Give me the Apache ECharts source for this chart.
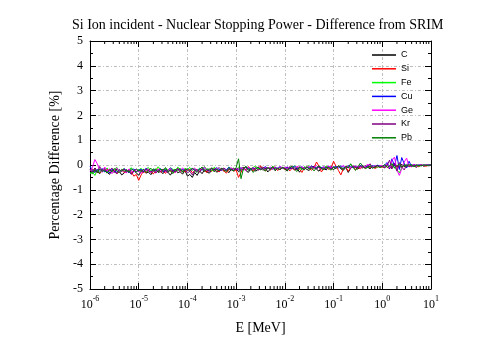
<!DOCTYPE html>
<html><head><meta charset="utf-8">
<script src="https://cdn.jsdelivr.net/npm/echarts@6/dist/echarts.min.js"></script>
<style>html,body{margin:0;padding:0;background:#fff}#c{width:500px;height:347px}</style>
</head><body><div id="c"></div>
<script>
const energy = [
1e-6,1.12e-6,1.26e-6,1.41e-6,1.58e-6,1.78e-6,2e-6,2.24e-6,2.51e-6,2.82e-6,3.16e-6,3.55e-6,3.98e-6,4.47e-6,5.01e-6,5.62e-6,6.31e-6,7.08e-6,7.94e-6,8.91e-6,
1e-5,1.12e-5,1.26e-5,1.41e-5,1.58e-5,1.78e-5,2e-5,2.24e-5,2.51e-5,2.82e-5,3.16e-5,3.55e-5,3.98e-5,4.47e-5,5.01e-5,5.62e-5,6.31e-5,7.08e-5,7.94e-5,8.91e-5,
1e-4,1.12e-4,1.26e-4,1.41e-4,1.58e-4,1.78e-4,2e-4,2.24e-4,2.51e-4,2.82e-4,3.16e-4,3.55e-4,3.98e-4,4.47e-4,5.01e-4,5.62e-4,6.31e-4,7.08e-4,7.94e-4,8.91e-4,
1e-3,1.12e-3,1.26e-3,1.41e-3,1.58e-3,1.78e-3,2e-3,2.24e-3,2.51e-3,2.82e-3,3.16e-3,3.55e-3,3.98e-3,4.47e-3,5.01e-3,5.62e-3,6.31e-3,7.08e-3,7.94e-3,8.91e-3,
1e-2,1.12e-2,1.26e-2,1.41e-2,1.58e-2,1.78e-2,2e-2,2.24e-2,2.51e-2,2.82e-2,3.16e-2,3.55e-2,3.98e-2,4.47e-2,5.01e-2,5.62e-2,6.31e-2,7.08e-2,7.94e-2,8.91e-2,
0.1,0.112,0.126,0.141,0.158,0.178,0.2,0.224,0.251,0.282,0.316,0.355,0.398,0.447,0.501,0.562,0.631,0.708,0.794,0.891,
1,1.12,1.26,1.41,1.58,1.78,2,2.24,2.51,2.82,3.16,3.55,3.98,4.47,5.01,5.62,6.31,7.08,7.94,8.91,
10];
const diffC = [
-0.18,-0.30,-0.12,-0.26,-0.35,-0.20,-0.15,-0.28,-0.38,-0.22,-0.30,-0.17,-0.25,-0.40,-0.33,-0.19,-0.27,-0.36,-0.24,-0.31,
-0.42,-0.25,-0.18,-0.33,-0.28,-0.39,-0.22,-0.16,-0.30,-0.26,-0.35,-0.20,-0.29,-0.41,-0.24,-0.18,-0.31,-0.27,-0.37,-0.22,
-0.45,-0.38,-0.50,-0.30,-0.42,-0.24,-0.35,-0.19,-0.28,-0.33,-0.21,-0.16,-0.29,-0.24,-0.12,-0.26,-0.20,-0.31,-0.17,-0.23,
-0.14,-0.27,-0.19,-0.08,-0.22,-0.30,-0.15,-0.11,-0.25,-0.18,-0.06,-0.21,-0.13,-0.28,-0.17,-0.09,-0.23,-0.14,-0.19,-0.10,
-0.16,-0.24,-0.11,-0.07,-0.20,-0.13,-0.29,-0.15,-0.09,-0.18,-0.22,-0.12,-0.05,-0.17,-0.25,-0.10,-0.14,-0.20,-0.08,-0.13,
-0.18,-0.11,-0.06,-0.15,-0.22,-0.09,-0.30,-0.13,-0.04,-0.10,-0.17,-0.07,-0.12,-0.03,-0.09,-0.15,-0.06,-0.11,-0.02,-0.08,
-0.05,-0.12,0.02,-0.08,-0.14,0.06,-0.04,-0.10,0.03,-0.07,-0.01,-0.06,0.02,-0.04,-0.09,-0.02,0.01,-0.05,-0.01,-0.03,
-0.02];
const diffSi = [
-0.24,-0.16,-0.29,-0.21,-0.33,-0.18,-0.26,-0.14,-0.30,-0.23,-0.19,-0.35,-0.27,-0.20,-0.31,-0.25,-0.17,-0.28,-0.45,-0.38,
-0.62,-0.40,-0.25,-0.32,-0.19,-0.27,-0.36,-0.22,-0.15,-0.29,-0.24,-0.34,-0.18,-0.26,-0.21,-0.30,-0.13,-0.25,-0.20,-0.28,
-0.22,-0.17,-0.31,-0.24,-0.19,-0.27,-0.14,-0.23,-0.30,-0.18,-0.26,-0.12,-0.21,-0.28,-0.16,-0.24,-0.33,-0.19,-0.14,-0.25,
-0.20,-0.50,-0.30,-0.12,-0.21,-0.06,-0.18,-0.25,-0.10,-0.19,-0.03,-0.16,-0.24,-0.11,-0.20,-0.14,-0.07,-0.22,-0.15,-0.12,
-0.18,-0.09,-0.24,-0.13,-0.20,-0.06,-0.17,-0.30,-0.12,-0.08,-0.15,-0.21,-0.10,0.12,-0.05,-0.28,-0.14,-0.09,-0.18,-0.11,
0.15,-0.05,-0.22,-0.40,-0.16,-0.08,-0.25,-0.12,-0.04,-0.19,-0.10,-0.15,-0.07,-0.13,-0.03,-0.11,-0.06,-0.14,-0.09,-0.05,
-0.10,-0.03,-0.08,-0.15,-0.02,0.05,-0.09,-0.04,-0.12,0.01,-0.06,-0.02,-0.08,0.02,-0.04,-0.07,0.00,-0.03,-0.05,-0.01,
-0.02];
const diffFe = [
-0.35,-0.28,-0.42,-0.20,-0.31,-0.17,-0.26,-0.12,-0.23,-0.30,-0.18,-0.09,-0.25,-0.21,-0.14,-0.27,-0.19,-0.11,-0.24,-0.16,
-0.22,-0.13,-0.28,-0.18,-0.10,-0.24,-0.15,-0.20,-0.07,-0.19,-0.26,-0.14,-0.21,-0.11,-0.17,-0.23,-0.09,-0.16,-0.25,-0.13,
-0.19,-0.10,-0.22,-0.15,-0.27,-0.12,-0.18,-0.06,-0.21,-0.14,-0.24,-0.09,-0.17,-0.11,-0.20,-0.13,-0.23,-0.08,-0.16,-0.12,
-0.18,-0.09,-0.15,-0.21,-0.07,-0.14,-0.19,-0.10,-0.04,-0.16,-0.12,-0.20,-0.08,-0.13,-0.17,-0.06,-0.11,-0.15,-0.09,-0.14,
-0.10,-0.16,-0.06,-0.12,-0.03,-0.14,-0.09,-0.18,-0.07,-0.11,-0.02,-0.13,-0.08,-0.15,-0.05,-0.10,-0.12,-0.04,-0.09,-0.13,
-0.07,-0.11,-0.04,-0.09,-0.14,-0.05,-0.08,0.02,-0.10,-0.06,-0.12,-0.03,-0.08,-0.05,-0.10,-0.02,-0.07,-0.04,-0.09,-0.06,
-0.03,-0.08,-0.01,-0.05,0.04,-0.12,-0.20,-0.32,-0.10,0.05,-0.03,-0.06,0.01,-0.04,-0.02,-0.05,0.00,-0.03,-0.01,-0.02,
0.00];
const diffCu = [
-0.05,-0.22,-0.30,-0.18,-0.25,-0.14,-0.28,-0.21,-0.33,-0.17,-0.24,-0.29,-0.19,-0.26,-0.15,-0.23,-0.31,-0.20,-0.16,-0.27,
-0.21,-0.18,-0.26,-0.13,-0.22,-0.28,-0.17,-0.24,-0.20,-0.15,-0.27,-0.19,-0.23,-0.12,-0.21,-0.26,-0.16,-0.22,-0.18,-0.24,
-0.17,-0.23,-0.14,-0.20,-0.26,-0.16,-0.21,-0.12,-0.19,-0.24,-0.15,-0.20,-0.11,-0.18,-0.22,-0.14,-0.19,-0.10,-0.17,-0.21,
-0.15,-0.19,-0.11,-0.17,-0.08,-0.14,-0.20,-0.12,-0.16,-0.09,-0.18,-0.13,-0.07,-0.15,-0.11,-0.17,-0.10,-0.14,-0.06,-0.12,
-0.13,-0.08,-0.16,-0.10,-0.05,-0.14,-0.11,-0.07,-0.15,-0.09,-0.12,-0.04,-0.10,-0.13,-0.06,-0.11,-0.08,-0.14,-0.05,-0.09,
-0.10,-0.06,-0.12,-0.04,-0.08,-0.11,-0.03,-0.07,-0.10,-0.05,-0.09,-0.02,-0.06,-0.08,-0.04,-0.07,-0.03,-0.05,-0.01,-0.04,
-0.06,0.00,0.10,-0.15,0.25,-0.05,0.38,-0.18,0.30,0.05,-0.12,0.15,-0.06,0.02,-0.03,0.01,-0.02,0.00,-0.01,0.01,
0.00];
const diffGe = [
-0.25,-0.10,0.22,0.05,-0.20,-0.30,-0.08,-0.24,-0.15,-0.35,-0.21,-0.12,-0.28,-0.18,-0.26,-0.32,-0.16,-0.23,-0.29,-0.19,
-0.27,-0.34,-0.20,-0.25,-0.15,-0.29,-0.22,-0.31,-0.17,-0.24,-0.19,-0.28,-0.21,-0.14,-0.26,-0.30,-0.18,-0.23,-0.12,-0.20,
-0.16,-0.24,-0.19,-0.12,-0.27,-0.21,-0.15,-0.09,-0.22,-0.17,-0.13,-0.25,-0.18,-0.10,-0.20,-0.14,-0.23,-0.16,-0.11,-0.19,
-0.14,-0.20,-0.11,-0.17,-0.22,-0.09,-0.15,-0.12,-0.18,-0.07,-0.13,-0.19,-0.10,-0.16,-0.08,-0.14,-0.11,-0.17,-0.06,-0.12,
-0.09,-0.15,-0.07,-0.12,-0.18,-0.05,-0.11,-0.08,-0.14,-0.10,-0.06,-0.13,-0.09,-0.03,-0.11,-0.16,-0.07,-0.12,-0.04,-0.10,
-0.08,-0.13,-0.05,-0.10,-0.02,-0.09,-0.06,-0.12,-0.03,-0.08,-0.05,-0.11,-0.04,-0.07,0.04,-0.06,-0.09,-0.03,-0.06,-0.04,
-0.02,-0.08,0.05,-0.12,0.18,0.32,-0.20,-0.42,-0.15,0.12,0.28,-0.08,-0.03,0.02,-0.05,-0.01,0.01,-0.03,0.00,-0.02,
-0.01];
const diffKr = [
-0.20,-0.28,-0.14,-0.32,-0.06,-0.24,-0.18,-0.30,-0.22,-0.12,-0.27,-0.35,-0.19,-0.25,-0.16,-0.29,-0.21,-0.38,-0.23,-0.17,
-0.26,-0.20,-0.31,-0.15,-0.24,-0.29,-0.18,-0.33,-0.22,-0.27,-0.16,-0.25,-0.30,-0.19,-0.23,-0.28,-0.14,-0.22,-0.26,-0.18,
-0.32,-0.25,-0.40,-0.22,-0.18,-0.28,-0.15,-0.24,-0.20,-0.26,-0.13,-0.21,-0.17,-0.25,-0.19,-0.12,-0.23,-0.16,-0.20,-0.14,
-0.19,-0.13,-0.22,-0.16,-0.10,-0.20,-0.14,-0.18,-0.11,-0.21,-0.15,-0.08,-0.17,-0.12,-0.19,-0.09,-0.16,-0.13,-0.18,-0.10,
-0.14,-0.18,-0.09,-0.15,-0.11,-0.20,-0.07,-0.13,-0.17,-0.10,-0.14,-0.06,-0.12,-0.16,-0.09,-0.13,-0.19,-0.08,-0.11,-0.15,
-0.09,-0.13,-0.06,-0.11,-0.16,-0.07,-0.10,-0.14,-0.05,-0.09,-0.12,-0.04,-0.08,-0.11,-0.06,0.05,-0.12,-0.07,-0.03,-0.08,
-0.05,-0.10,-0.02,0.20,-0.15,0.08,-0.25,0.10,-0.08,-0.20,0.02,-0.06,-0.02,-0.04,0.01,-0.03,-0.01,-0.02,0.00,-0.01,
0.00];
const diffPb = [
-0.28,-0.35,-0.20,-0.30,-0.16,-0.26,-0.22,-0.33,-0.19,-0.27,-0.14,-0.24,-0.31,-0.18,-0.25,-0.21,-0.29,-0.15,-0.23,-0.28,
-0.20,-0.26,-0.17,-0.30,-0.22,-0.13,-0.25,-0.19,-0.28,-0.16,-0.23,-0.10,-0.27,-0.21,-0.35,-0.18,-0.24,-0.14,-0.29,-0.20,
-0.16,-0.25,-0.12,-0.22,-0.30,-0.18,-0.08,-0.26,-0.15,-0.21,-0.11,-0.28,-0.17,-0.23,-0.13,-0.20,-0.27,-0.14,-0.19,-0.24,
-0.10,0.25,-0.55,-0.15,-0.05,-0.22,-0.12,-0.30,-0.18,-0.08,-0.20,-0.14,-0.25,-0.10,-0.17,-0.06,-0.21,-0.13,-0.19,-0.09,
-0.15,-0.22,-0.11,-0.05,-0.18,-0.26,-0.09,-0.14,-0.20,-0.07,-0.16,-0.12,-0.24,-0.10,-0.04,-0.15,-0.19,-0.08,-0.13,-0.21,
-0.08,-0.14,-0.03,-0.11,-0.18,-0.06,-0.12,0.05,-0.09,-0.22,-0.07,0.08,-0.04,-0.15,-0.10,-0.05,-0.13,-0.08,-0.02,-0.10,
-0.06,0.02,-0.10,-0.04,0.06,-0.12,-0.03,0.04,-0.08,-0.01,-0.05,0.02,-0.03,-0.06,0.00,-0.02,-0.04,0.01,-0.02,-0.01,
0.00];
const seriesNames = ['C','Si','Fe','Cu','Ge','Kr','Pb'];
const seriesValues = [diffC, diffSi, diffFe, diffCu, diffGe, diffKr, diffPb];
const seriesColors = ['#000000','#ff0000','#00ff00','#0000ff','#ff00ff','#800080','#008000'];
const decades = [1e-6,1e-5,1e-4,1e-3,1e-2,1e-1,1];
const minorMultipliers = [2,3,4,5,6,7,8,9];
const minorTickValues = [];
decades.forEach(d => minorMultipliers.forEach(k => minorTickValues.push(k * d)));

const serif = '"Liberation Serif", "Times New Roman", serif';
const gridLine = { show: true, lineStyle: { color: '#c0c0c0', width: 1, type: [3, 2, 1, 2] } };
const chart = echarts.init(document.getElementById('c'), null, { renderer: 'canvas' });

const lineSeries = seriesNames.map((n, i) => ({
  name: n, type: 'line', symbol: 'none', showSymbol: false, animation: false,
  lineStyle: { width: 1, color: seriesColors[i] }, itemStyle: { color: seriesColors[i] },
  data: energy.map((e, j) => [e, seriesValues[i][j]])
}));

const minorTicks = {
  type: 'custom', silent: true, animation: false, z: 10, clip: false,
  data: minorTickValues.map(v => [v]),
  encode: { x: 0 },
  renderItem: function (params, api) {
    const x = api.value(0);
    const b = api.coord([x, -5]);
    const t = api.coord([x, 5]);
    return { type: 'group', children: [
      { type: 'line', shape: { x1: b[0], y1: b[1], x2: b[0], y2: b[1] - 3 }, style: { stroke: '#000', lineWidth: 1 } },
      { type: 'line', shape: { x1: t[0], y1: t[1], x2: t[0], y2: t[1] + 3 }, style: { stroke: '#000', lineWidth: 1 } }
    ] };
  }
};

chart.setOption({
  animation: false,
  backgroundColor: '#fff',
  title: { text: 'Si Ion incident - Nuclear Stopping Power - Difference from SRIM', left: 67, top: 13,
    textStyle: { fontFamily: serif, fontSize: 14, fontWeight: 'normal', color: '#000' } },
  legend: {
    data: seriesNames, orient: 'vertical', left: 372, top: 50, padding: 0, icon: 'rect',
    itemWidth: 24, itemHeight: 1.5, itemGap: 3.8,
    textStyle: { fontFamily: '"Liberation Sans", Arial, sans-serif', fontSize: 9, color: '#000', lineHeight: 10 }
  },
  grid: { left: 90, right: 69, top: 41, bottom: 58 },
  xAxis: [
    { type: 'log', logBase: 10, min: 1e-6, max: 10, interval: 1,
      name: 'E [MeV]', nameLocation: 'middle', nameGap: 32,
      nameTextStyle: { fontFamily: serif, fontSize: 14, color: '#000' },
      axisLine: { show: true, onZero: false, lineStyle: { color: '#000', width: 1 } },
      axisTick: { show: true, inside: true, length: 6, lineStyle: { color: '#000' } },
      splitLine: gridLine,
      axisLabel: { margin: 6, formatter: v => '{b|10}{s|' + Math.round(Math.log10(v)) + '}',
        rich: { b: { fontFamily: serif, fontSize: 12, color: '#000', verticalAlign: 'bottom', lineHeight: 16 },
                s: { fontFamily: serif, fontSize: 8, color: '#000', verticalAlign: 'top', lineHeight: 16 } } } },
    { type: 'log', logBase: 10, min: 1e-6, max: 10, interval: 1, position: 'top',
      axisLine: { show: true, onZero: false, lineStyle: { color: '#000', width: 1 } },
      axisTick: { show: true, inside: true, length: 6, lineStyle: { color: '#000' } },
      axisLabel: { show: false }, splitLine: { show: false } }
  ],
  yAxis: [
    { type: 'value', min: -5, max: 5, interval: 1,
      name: 'Percentage Difference [%]', nameLocation: 'middle', nameGap: 26,
      nameTextStyle: { fontFamily: serif, fontSize: 14, color: '#000' },
      axisLine: { show: true, onZero: false, lineStyle: { color: '#000', width: 1 } },
      axisTick: { show: true, inside: true, length: 6, lineStyle: { color: '#000' } },
      minorTick: { show: true, splitNumber: 2, length: 3, lineStyle: { color: '#000' } },
      splitLine: gridLine,
      axisLabel: { fontFamily: serif, fontSize: 12, color: '#000', margin: 7 } },
    { type: 'value', min: -5, max: 5, interval: 1, position: 'right',
      axisLine: { show: true, onZero: false, lineStyle: { color: '#000', width: 1 } },
      axisTick: { show: true, inside: true, length: 6, lineStyle: { color: '#000' } },
      minorTick: { show: true, splitNumber: 2, length: 3, lineStyle: { color: '#000' } },
      axisLabel: { show: false }, splitLine: { show: false } }
  ],
  series: lineSeries.concat([minorTicks])
});
</script></body></html>
